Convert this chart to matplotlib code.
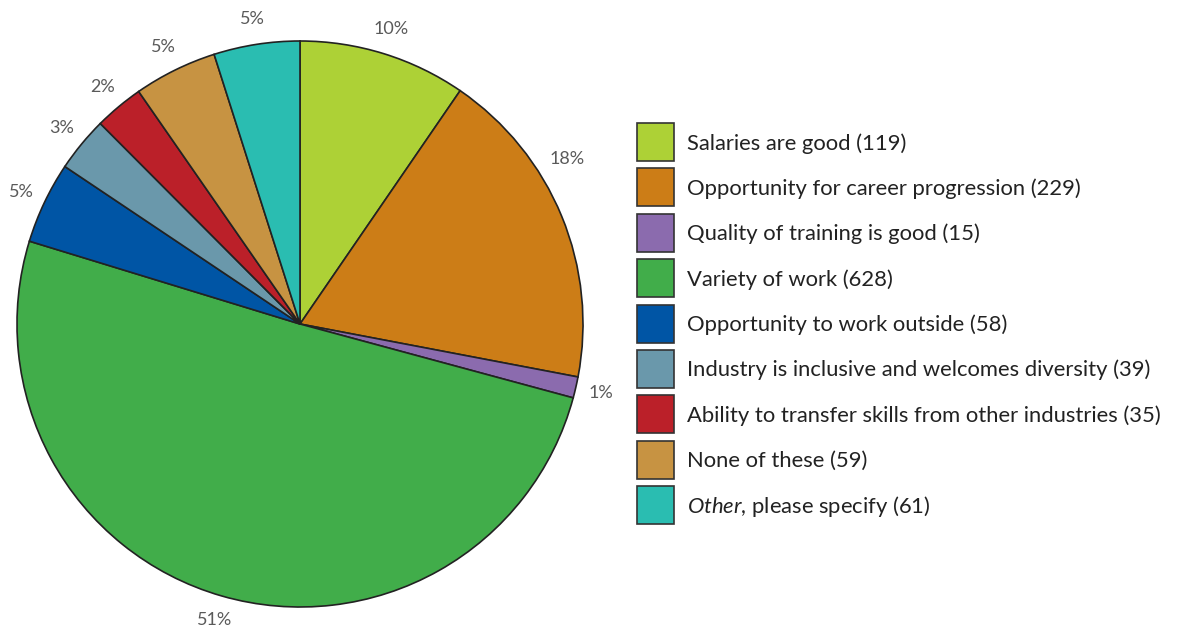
import matplotlib
matplotlib.use("Agg")
import matplotlib.pyplot as plt
from matplotlib.patches import Rectangle
import numpy as np

plt.rcParams['font.family'] = ['Lato', 'DejaVu Sans']
plt.rcParams['mathtext.fontset'] = 'custom'
plt.rcParams['mathtext.rm'] = 'Lato'
plt.rcParams['mathtext.it'] = 'Lato:italic'

categories = [
    "Salaries are good",
    "Opportunity for career progression",
    "Quality of training is good",
    "Variety of work",
    "Opportunity to work outside",
    "Industry is inclusive and welcomes diversity",
    "Ability to transfer skills from other industries",
    "None of these",
    r"$\mathit{Other}$, please specify",
]
counts = [119, 229, 15, 628, 58, 39, 35, 59, 61]
percents = [10, 18, 1, 51, 5, 3, 2, 5, 5]
colors = ["#ADD136", "#CC7D17", "#8B6BAE", "#41AD4A", "#0055A5",
          "#6A98AB", "#BB2029", "#C79342", "#2ABDB1"]

W, H = 1184, 628
fig = plt.figure(figsize=(W / 100, H / 100), dpi=100)
ax = fig.add_axes([0, 0, 1, 1])

# pie drawn in pixel-sized data units, y measured upward
cx, cy, r = 300, H - 324, 283
wedges, texts = ax.pie(
    counts, colors=colors, startangle=90, counterclock=False,
    center=(cx, cy), radius=r,
    labels=[f"{p}%" for p in percents], labeldistance=1.09,
    wedgeprops=dict(edgecolor="#222222", linewidth=1.2),
    textprops=dict(color="#5a5a5a", fontsize=13, va="center"),
)
for t in texts:
    t.set_horizontalalignment("center")

# career-progression label sits a little higher on the rim
ang = np.deg2rad(31.7)
texts[1].set_position((cx + 1.11 * r * np.cos(ang), cy + 1.11 * r * np.sin(ang)))

# legend: swatches with dark outline and labels
box_x, box_w, box_h = 637, 37, 38
top0, step = 123, 45.4
for i, (cat, n, col) in enumerate(zip(categories, counts, colors)):
    top = top0 + i * step
    ax.add_patch(Rectangle((box_x, H - top - box_h), box_w, box_h,
                           facecolor=col, edgecolor="#333333", linewidth=1.2))
    ax.text(box_x + box_w + 13, H - (top + box_h / 2) - 7.5, f"{cat} ({n})",
            fontsize=15.8, color="#222222", ha="left", va="baseline")

ax.set_xlim(0, W)
ax.set_ylim(0, H)
ax.set_aspect("equal")
ax.axis("off")

fig.savefig("out.png", dpi=100)
